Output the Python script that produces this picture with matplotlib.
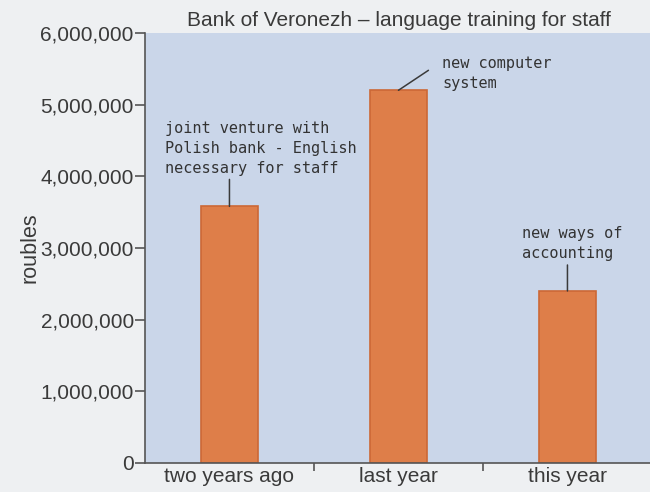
import matplotlib.pyplot as plt

# data
categories = ['two years ago', 'last year', 'this year']
spend = [3580000, 5200000, 2400000]
notes = ['joint venture with\nPolish bank - English\nnecessary for staff',
         'new computer\nsystem',
         'new ways of\naccounting']
y_ticks = [0, 1000000, 2000000, 3000000, 4000000, 5000000, 6000000]
y_tick_labels = ['0', '1,000,000', '2,000,000', '3,000,000', '4,000,000',
                 '5,000,000', '6,000,000']

fig = plt.figure(figsize=(6.5, 4.92), dpi=100, facecolor='#eef0f2')
ax = fig.add_axes([0.223, 0.059, 0.78, 0.874])
ax.set_facecolor('#cad6e9')

x = list(range(len(categories)))
ax.bar(x, spend, width=0.34, color='#de7e49', edgecolor='#cc6836', linewidth=1.2)

ax.set_xlim(-0.5, 2.5)
ax.set_ylim(0, 6000000)

ax.set_yticks(y_ticks)
ax.set_yticklabels(y_tick_labels, fontsize=15, color='#3a3a3a', family='Liberation Sans')
ax.set_xticks(x)
ax.set_xticklabels(categories, fontsize=15, color='#3a3a3a', family='Liberation Sans')
ax.tick_params(axis='x', length=0, pad=3)
ax.tick_params(axis='y', length=7, width=1.2, color='#555555', pad=1)
# separators between categories on the x axis
ax.set_xticks([0.5, 1.5, 2.5], minor=True)
ax.tick_params(axis='x', which='minor', length=6, width=1.2, color='#555555')

for s in ['top', 'right']:
    ax.spines[s].set_visible(False)
for s in ['left', 'bottom']:
    ax.spines[s].set_color('#555555')
    ax.spines[s].set_linewidth(1.2)

ax.set_ylabel('roubles', fontsize=15.5, color='#3a3a3a', family='Liberation Sans', labelpad=0)
ax.set_title('Bank of Veronezh \u2013 language training for staff', fontsize=15,
             color='#3a3a3a', family='Liberation Sans', pad=5)

# handwritten notes with leader lines
line_ends = [(0, 27), (30, 20), (0, 26)]
text_offsets = [(-64, 30), (44, -1), (-45, 30)]
for i, v in enumerate(spend):
    ax.annotate('', xy=(i, v), xycoords='data',
                xytext=line_ends[i], textcoords='offset pixels',
                arrowprops=dict(arrowstyle='-', color='#3a3a3a', lw=1.1,
                                shrinkA=0, shrinkB=0))
    ax.annotate(notes[i], xy=(i, v), xytext=text_offsets[i], textcoords='offset pixels',
                ha='left', va='bottom', fontsize=11, color='#333333',
                family='DejaVu Sans Mono', linespacing=1.42)

fig.savefig('out.png', dpi=100, facecolor=fig.get_facecolor())
